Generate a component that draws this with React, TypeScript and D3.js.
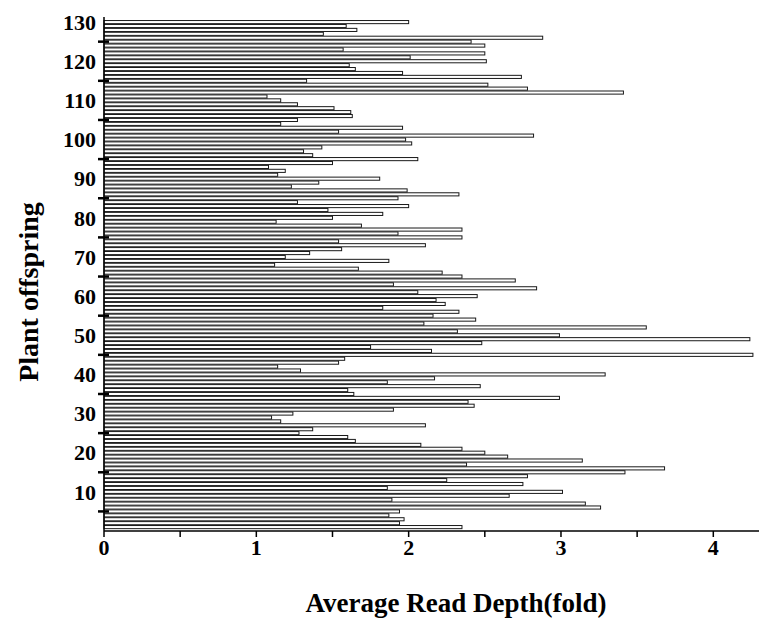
import * as d3 from "d3";
import { useLayoutEffect, useRef } from "react";

// average read depth per plant offspring, offspring 1 .. 130
const depth: number[] = [
  2.35, 1.94, 1.97, 1.87, 1.94, 3.26, 3.16, 1.89, 2.66, 3.01,
  1.86, 2.75, 2.25, 2.78, 3.42, 3.68, 2.38, 3.14, 2.65, 2.5,
  2.35, 2.08, 1.65, 1.6, 1.28, 1.37, 2.11, 1.16, 1.1, 1.24,
  1.9, 2.43, 2.39, 2.99, 1.64, 1.6, 2.47, 1.86, 2.17, 3.29,
  1.29, 1.14, 1.54, 1.58, 4.26, 2.15, 1.75, 2.48, 4.24, 2.99,
  2.32, 3.56, 2.1, 2.44, 2.16, 2.33, 1.83, 2.24, 2.18, 2.45,
  2.06, 2.84, 1.9, 2.7, 2.35, 2.22, 1.67, 1.12, 1.87, 1.19,
  1.35, 1.56, 2.11, 1.54, 2.35, 1.93, 2.35, 1.69, 1.13, 1.5,
  1.83, 1.47, 2.0, 1.27, 1.93, 2.33, 1.99, 1.23, 1.41, 1.81,
  1.14, 1.19, 1.08, 1.5, 2.06, 1.37, 1.31, 1.43, 2.02, 1.98,
  2.82, 1.54, 1.96, 1.16, 1.27, 1.63, 1.62, 1.51, 1.27, 1.16,
  1.07, 3.41, 2.78, 2.52, 1.33, 2.74, 1.96, 1.65, 1.61, 2.51,
  2.01, 2.5, 1.57, 2.5, 2.41, 2.88, 1.44, 1.66, 1.59, 2.0,
];
const offspring = depth.map((_, i) => i + 1);

const xTicks = [0, 1, 2, 3, 4];
const xMinorTicks = [0.5, 1.5, 2.5, 3.5];
const yTicks = [10, 20, 30, 40, 50, 60, 70, 80, 90, 100, 110, 120, 130];
const yMinorTicks = [5, 15, 25, 35, 45, 55, 65, 75, 85, 95, 105, 115, 125];

const W = 768;
const H = 622;
const FONT = '"Liberation Serif", "Times New Roman", serif';

export default function App() {
  const svgRef = useRef<SVGSVGElement>(null);

  useLayoutEffect(() => {
    const svg = d3.select(svgRef.current);
    svg.selectAll("*").remove();

    const left = 104;
    const right = 759;
    const bottom = 531;
    const top = 17;

    const x = d3.scaleLinear().domain([0, 4.3]).range([left, right]);
    const y = d3.scaleLinear().domain([0, 131.3]).range([bottom, top]);
    const barH = y(0) - y(1);

    // bars
    svg
      .append("g")
      .selectAll("rect")
      .data(offspring)
      .join("rect")
      .attr("x", x(0))
      .attr("y", (d) => y(d) - barH / 2 + 0.4)
      .attr("width", (d, i) => x(depth[i]) - x(0))
      .attr("height", barH - 0.8)
      .attr("fill", "#fff")
      .attr("stroke", "#1a1a1a")
      .attr("stroke-width", 1);

    // x axis
    const gx = svg.append("g").attr("transform", `translate(0,${bottom})`);
    gx.append("line")
      .attr("x1", left)
      .attr("x2", right)
      .attr("stroke", "#000")
      .attr("stroke-width", 1.5);
    gx.selectAll(".tk")
      .data([...xTicks, ...xMinorTicks])
      .join("line")
      .attr("x1", (d) => x(d))
      .attr("x2", (d) => x(d))
      .attr("y1", 0)
      .attr("y2", 6)
      .attr("stroke", "#000")
      .attr("stroke-width", 1.5);
    gx.selectAll("text")
      .data(xTicks)
      .join("text")
      .attr("x", (d) => x(d))
      .attr("y", 24)
      .attr("text-anchor", "middle")
      .attr("font-family", FONT)
      .attr("font-weight", "bold")
      .attr("font-size", 22)
      .text((d) => d);

    // y axis
    const gy = svg.append("g");
    gy.append("line")
      .attr("x1", left)
      .attr("x2", left)
      .attr("y1", top)
      .attr("y2", bottom)
      .attr("stroke", "#000")
      .attr("stroke-width", 1.5);
    gy.selectAll(".tk")
      .data(yMinorTicks)
      .join("line")
      .attr("x1", left - 6)
      .attr("x2", left + 5)
      .attr("y1", (d) => y(d))
      .attr("y2", (d) => y(d))
      .attr("stroke", "#000")
      .attr("stroke-width", 2.5);
    gy.selectAll("text")
      .data(yTicks)
      .join("text")
      .attr("x", left - 8)
      .attr("y", (d) => y(d))
      .attr("dy", "0.35em")
      .attr("text-anchor", "end")
      .attr("font-family", FONT)
      .attr("font-weight", "bold")
      .attr("font-size", 22)
      .text((d) => d);

    // axis titles
    svg
      .append("text")
      .attr("x", 456)
      .attr("y", 612)
      .attr("text-anchor", "middle")
      .attr("font-family", FONT)
      .attr("font-weight", "bold")
      .attr("font-size", 27)
      .text("Average Read Depth(fold)");

    svg
      .append("text")
      .attr("transform", `translate(38,292) rotate(-90)`)
      .attr("text-anchor", "middle")
      .attr("font-family", FONT)
      .attr("font-weight", "bold")
      .attr("font-size", 28)
      .text("Plant offspring");
  }, []);

  return (
    <svg
      ref={svgRef}
      width={W}
      height={H}
      style={{ position: "absolute", left: 0, top: 0, background: "#fff" }}
    />
  );
}
